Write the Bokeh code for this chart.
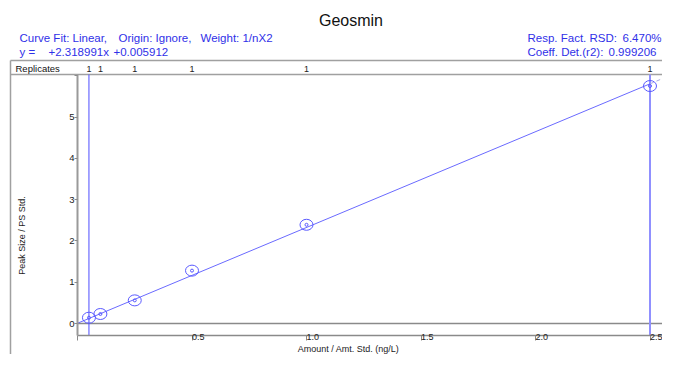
import math
from bokeh.plotting import figure
from bokeh.models import Range1d, LinearAxis, FixedTicker, Label, PrintfTickFormatter
from bokeh.core.properties import value
from bokeh.embed import file_html
from bokeh.resources import INLINE

# ---------------- data ----------------
compound = "Geosmin"
amounts = [0.05, 0.1, 0.25, 0.5, 1.0, 2.5]          # Amount / Amt. Std. (ng/L)
responses = [0.14, 0.23, 0.56, 1.28, 2.39, 5.75]     # Peak Size / PS Std.
replicates = [1, 1, 1, 1, 1, 1]
slope = 2.318991
intercept = 0.005912
rsd_pct = 6.470
r2 = 0.999206
x_ticks = [0.0, 0.5, 1.0, 1.5, 2.0, 2.5]
y_ticks = [0, 1, 2, 3, 4, 5, 6]
x_label = "Amount / Amt. Std. (ng/L)"
y_label = "Peak Size / PS Std."

# ---------------- layout ----------------
W, H = 662, 354
PX_X, X0 = 229.0, 77.0      # pixels per x unit, canvas x of x=0
PX_Y, Y0 = 41.3, 323.0      # pixels per y unit, canvas y of y=0


def rx(px):
    return (px - X0) / PX_X


def ry(py):
    return (Y0 - py) / PX_Y


FONT = "Liberation Sans"
BLUE_TXT = "#3030e8"
BLUE_LINE = "#6a6aff"
GRID_GRAY = "#a0a0a0"
AXIS_GRAY = "#8a8a8a"

X_LEFT, X_RIGHT = rx(0), rx(W)
Y_BOTTOM, Y_TOP_FIG = ry(H), ry(0)
Y_AXIS = ry(334.5)
Y_PLOT_TOP = ry(74)
Y_HEADER = ry(60)
X_FRAME = rx(10)

p = figure(width=W, height=H,
           x_range=Range1d(X_LEFT, X_RIGHT), y_range=Range1d(Y_BOTTOM, Y_TOP_FIG),
           output_backend="svg", toolbar_location=None,
           x_axis_type=None, y_axis_type=None,
           min_border=0, outline_line_color=None,
           background_fill_color="white", border_fill_color="white")

# frame lines (header rows and left border)
p.segment(x0=[X_FRAME, X_FRAME], y0=[Y_HEADER, Y_PLOT_TOP],
          x1=[X_RIGHT, X_RIGHT], y1=[Y_HEADER, Y_PLOT_TOP],
          line_color=GRID_GRAY, line_width=1.5)
p.segment(x0=[X_FRAME], y0=[Y_HEADER], x1=[X_FRAME], y1=[Y_BOTTOM],
          line_color=GRID_GRAY, line_width=1.5)

# zero line
p.segment(x0=[0], y0=[0], x1=[X_RIGHT], y1=[0], line_color=AXIS_GRAY, line_width=1.5)

# calibration range limits
p.segment(x0=[min(amounts)], y0=[Y_AXIS], x1=[min(amounts)], y1=[Y_PLOT_TOP],
          line_color="#4d4dff", line_width=1)
p.segment(x0=[max(amounts)], y0=[Y_AXIS], x1=[max(amounts)], y1=[Y_PLOT_TOP],
          line_color="#9090ff", line_width=2)

# fit line
x_fit = [0.0, max(amounts)]
p.line(x=x_fit, y=[slope * v + intercept for v in x_fit], line_color=BLUE_LINE, line_width=1)
x_ext = [max(amounts), X_RIGHT]
p.line(x=x_ext, y=[slope * v + intercept for v in x_ext], line_color="#a8a8e0",
       line_width=1, line_dash="4 3")

# points
p.ellipse(x=amounts, y=responses, width=13, height=11, width_units="screen",
          height_units="screen", fill_color=None, line_color="#5a5aff", line_width=1)
p.scatter(x=amounts, y=responses, size=3, marker="circle", fill_color=None,
          line_color="#5a5aff", line_width=1)

# axes
xaxis = LinearAxis(fixed_location=Y_AXIS, bounds=(0, X_RIGHT + 1),
                   ticker=FixedTicker(ticks=x_ticks, minor_ticks=[]),
                   formatter=PrintfTickFormatter(format="%.1f"))
xaxis.major_label_overrides = {0.0: ""}
xaxis.major_tick_out = 5
xaxis.major_tick_in = 0
xaxis.minor_tick_out = 0
xaxis.minor_tick_in = 0
xaxis.major_label_standoff = -3
xaxis.major_label_orientation = -0.0001
xaxis.major_label_text_font = FONT
xaxis.major_label_text_font_size = "9px"
xaxis.major_label_text_color = "#222222"
xaxis.axis_line_color = AXIS_GRAY
xaxis.axis_line_width = 1.5
xaxis.major_tick_line_color = AXIS_GRAY
p.add_layout(xaxis, "below")

yaxis = LinearAxis(fixed_location=0, bounds=(Y_AXIS, Y_PLOT_TOP),
                   ticker=FixedTicker(ticks=y_ticks, minor_ticks=[]))
yaxis.major_label_overrides = {6: ""}
yaxis.major_tick_out = 3
yaxis.major_tick_in = 0
yaxis.minor_tick_out = 0
yaxis.minor_tick_in = 0
yaxis.major_label_standoff = 0
yaxis.major_label_orientation = "horizontal"
yaxis.major_label_text_font = FONT
yaxis.major_label_text_font_size = "9.5px"
yaxis.major_label_text_color = "#222222"
yaxis.axis_line_color = "#9a9a9a"
yaxis.axis_line_width = 2
yaxis.major_tick_line_color = AXIS_GRAY
p.add_layout(yaxis, "left")

# replicate counts
p.text(x=amounts, y=[ry(68)] * len(amounts), text=[str(r) for r in replicates],
       text_font=value(FONT), text_font_size="9px", text_align="center",
       text_baseline="middle", text_color="#222222")


def lab(px, py, text, size, color="#111111", align="left", angle=0.0, baseline="middle"):
    p.add_layout(Label(x=rx(px), y=ry(py), text=text, text_font=FONT,
                       text_font_size=size, text_color=color, text_align=align,
                       text_baseline=baseline, angle=angle))


HDR = "11.5px"
lab(350.5, 20, compound, "16px", align="center")
lab(19, 37.5, "Curve Fit: Linear,", HDR, BLUE_TXT)
lab(118, 37.5, "Origin: Ignore,", HDR, BLUE_TXT)
lab(200, 37.5, "Weight: 1/nX2", HDR, BLUE_TXT)
lab(19, 51, "y =", HDR, BLUE_TXT)
lab(48, 51, f"{slope:+.6f}x", HDR, BLUE_TXT)
lab(113, 51, f"{intercept:+.6f}", HDR, BLUE_TXT)
lab(527, 37, "Resp. Fact. RSD:", HDR, BLUE_TXT)
lab(622, 37, f"{rsd_pct:.3f}%", HDR, BLUE_TXT)
lab(527, 51, "Coeff. Det.(r2):", HDR, BLUE_TXT)
lab(608, 51, f"{r2:.6f}", HDR, BLUE_TXT)
lab(15, 68, "Replicates", "9.5px", "#111111")
lab(21.5, 235, y_label, "9px", "#222222", align="center", angle=math.pi / 2)
lab(348, 353.5, x_label, "9px", "#222222", align="center", baseline="bottom")

open("out.html", "w").write(file_html(p, INLINE))
